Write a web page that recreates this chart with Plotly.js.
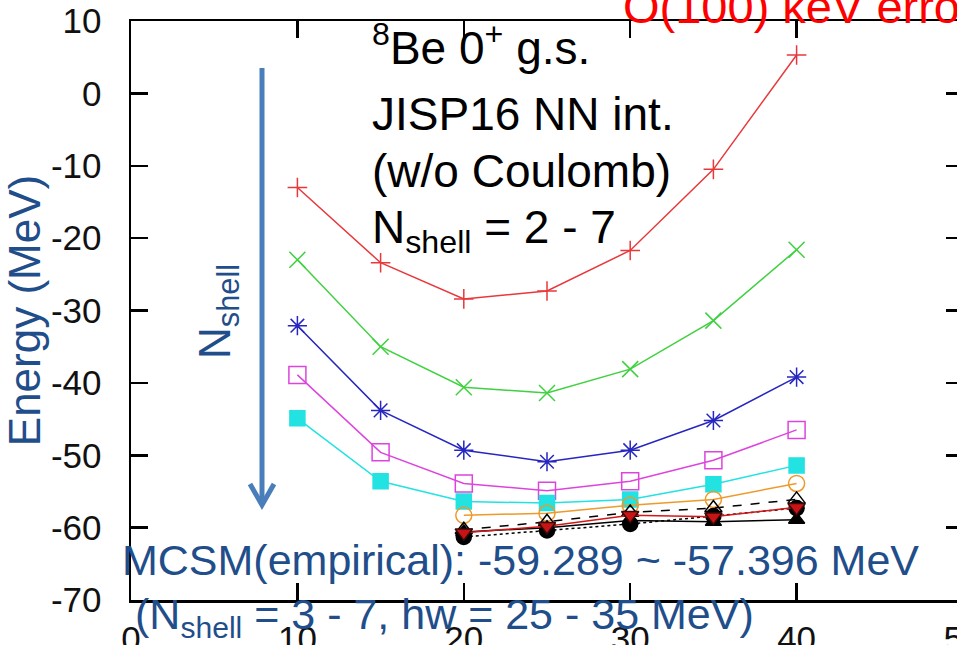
<!DOCTYPE html>
<html>
<head>
<meta charset="utf-8">
<script src="https://cdn.plot.ly/plotly-3.0.1.min.js"></script>
<style>
html,body{margin:0;padding:0;overflow:hidden;background:#fff;}
#chart{width:1000px;height:645px;}
</style>
</head>
<body>
<div id="chart"></div>
<script>
// ---- data (hw in MeV, energies in MeV) ----
const hw = [10, 15, 20, 25, 30, 35, 40];
const hwLow = [20, 25, 30, 35, 40];
const eN2 = [-13.0, -23.4, -28.4, -27.3, -21.7, -10.5, 5.3];
const eN3 = [-23.0, -35.0, -40.6, -41.4, -38.1, -31.4, -21.6];
const eN4 = [-32.1, -43.8, -49.3, -50.9, -49.3, -45.2, -39.2];
const eN5 = [-38.9, -49.6, -53.9, -54.9, -53.6, -50.7, -46.5];
const eN6 = [-44.9, -53.6, -56.4, -56.6, -56.1, -54.0, -51.4];
const eN7 = [-58.3, -58.0, -56.9, -56.1, -53.9];
const eDashTri = [-60.3, -59.2, -57.9, -57.3, -56.1];
const eRedInv = [-60.7, -59.8, -58.3, -58.5, -57.2];
const eBlkTri = [-60.6, -60.0, -59.0, -59.2, -58.9];
const eDotCirc = [-61.3, -60.4, -59.5, -58.4, -57.3];
const xTicks = [0, 10, 20, 30, 40, 50];
const yTicks = [-70, -60, -50, -40, -30, -20, -10, 0, 10];

const FONT = 'Liberation Sans, Arial, sans-serif';
const DARKBLUE = '#1f4e8a';

function tr(x, y, name, color, symbol, msize, dash, fill) {
  return {
    x: x, y: y, name: name, type: 'scatter', mode: 'lines+markers',
    line: {color: color, width: 1.5, dash: dash || 'solid'},
    marker: {symbol: symbol, size: msize, color: fill || color,
             line: {color: color, width: 1.5}},
    cliponaxis: false
  };
}

const data = [
  tr(hw, eN2, 'Nshell=2', '#e8383b', 'cross-thin-open', 14),
  tr(hw, eN3, 'Nshell=3', '#3fd13f', 'x-thin-open', 16),
  tr(hw, eN4, 'Nshell=4', '#2626c0', 'asterisk-open', 16),
  tr(hw, eN5, 'Nshell=5', '#dd44dd', 'square-open', 17),
  tr(hw, eN6, 'Nshell=6', '#22e2e2', 'square', 15),
  tr(hwLow, eN7, 'Nshell=7', '#ee9a2a', 'circle-open', 16),
  tr(hwLow, eDashTri, 'open triangle', '#000000', 'triangle-up-open', 15, 'dash'),
  tr(hwLow, eDotCirc, 'filled circle', '#000000', 'circle', 15, 'dot'),
  tr(hwLow, eBlkTri, 'filled triangle', '#000000', 'triangle-up', 14),
  tr(hwLow, eRedInv, 'filled inv. triangle', '#3a0a0a', 'triangle-down', 15, 'solid', '#c81414')
];
data[9].line.color = '#d41818';

// pixel -> paper helpers (plot area: x 131..963, y 21..600)
const PL = 131, PW = 832, PT = 21, PH = 579;
const px = v => (v - PL) / PW;
const py = v => (PT + PH - v) / PH;

const axisCommon = {
  showgrid: false, zeroline: false, showline: true, linecolor: '#000', linewidth: 2.5,
  mirror: 'ticks', ticks: 'inside', ticklen: 17, tickwidth: 2.5, tickcolor: '#000',
  tickfont: {family: FONT, size: 35, color: '#111'}, automargin: false
};

const layout = {
  width: 1000, height: 645,
  margin: {l: PL, r: 1000 - PL - PW, t: PT, b: 645 - PT - PH},
  paper_bgcolor: '#fff', plot_bgcolor: '#fff',
  showlegend: false,
  xaxis: Object.assign({}, axisCommon, {
    range: [0, 50], tickvals: xTicks, ticktext: xTicks.map(String),
    ticklabelstandoff: 6
  }),
  yaxis: Object.assign({}, axisCommon, {
    range: [-70, 10], tickvals: yTicks, ticktext: yTicks.map(String),
    ticklabelstandoff: 20,
    title: {text: 'Energy (MeV)', font: {family: FONT, size: 44, color: DARKBLUE}, standoff: 0}
  }),
  shapes: [
    {type: 'line', xref: 'paper', yref: 'paper', x0: px(262), x1: px(262), y0: py(68), y1: py(503),
     line: {color: '#4a7ebb', width: 5}},
    {type: 'path', xref: 'paper', yref: 'paper',
     path: 'M ' + px(250) + ',' + py(484) + ' L ' + px(262) + ',' + py(505) + ' L ' + px(274) + ',' + py(484),
     line: {color: '#4a7ebb', width: 5}}
  ],
  annotations: [
    {xref: 'paper', yref: 'paper', x: px(370), y: py(45), xanchor: 'left', yanchor: 'middle', showarrow: false,
     text: '<sup>8</sup>Be 0<sup>+</sup> g.s.', font: {family: FONT, size: 46, color: '#000'}},
    {xref: 'paper', yref: 'paper', x: px(370), y: py(114), xanchor: 'left', yanchor: 'middle', showarrow: false,
     text: 'JISP16 NN int.', font: {family: FONT, size: 46, color: '#000'}},
    {xref: 'paper', yref: 'paper', x: px(370), y: py(171), xanchor: 'left', yanchor: 'middle', showarrow: false,
     text: '(w/o Coulomb)', font: {family: FONT, size: 46, color: '#000'}},
    {xref: 'paper', yref: 'paper', x: px(370), y: py(230), xanchor: 'left', yanchor: 'middle', showarrow: false,
     text: 'N<sub>shell</sub> = 2 - 7', font: {family: FONT, size: 46, color: '#000'}},
    {xref: 'paper', yref: 'paper', x: px(218), y: py(312), xanchor: 'center', yanchor: 'middle', showarrow: false,
     textangle: -90, text: 'N<sub>shell</sub>', font: {family: FONT, size: 44, color: DARKBLUE}},
    {xref: 'paper', yref: 'paper', x: px(120), y: py(560), xanchor: 'left', yanchor: 'middle', showarrow: false,
     text: 'MCSM(empirical): -59.289 ~ -57.396 MeV', font: {family: FONT, size: 43, color: DARKBLUE}},
    {xref: 'paper', yref: 'paper', x: px(133), y: py(617), xanchor: 'left', yanchor: 'middle', showarrow: false,
     text: '(N<sub>shell</sub> = 3 - 7, hw = 25 - 35 MeV)', font: {family: FONT, size: 43, color: DARKBLUE}},
    {xref: 'paper', yref: 'paper', x: px(621), y: py(7), xanchor: 'left', yanchor: 'middle', showarrow: false,
     text: 'O(100) keV error', font: {family: FONT, size: 47, color: '#ff0000'}}
  ]
};

Plotly.newPlot('chart', data, layout, {displayModeBar: false, staticPlot: true});
</script>
</body>
</html>
